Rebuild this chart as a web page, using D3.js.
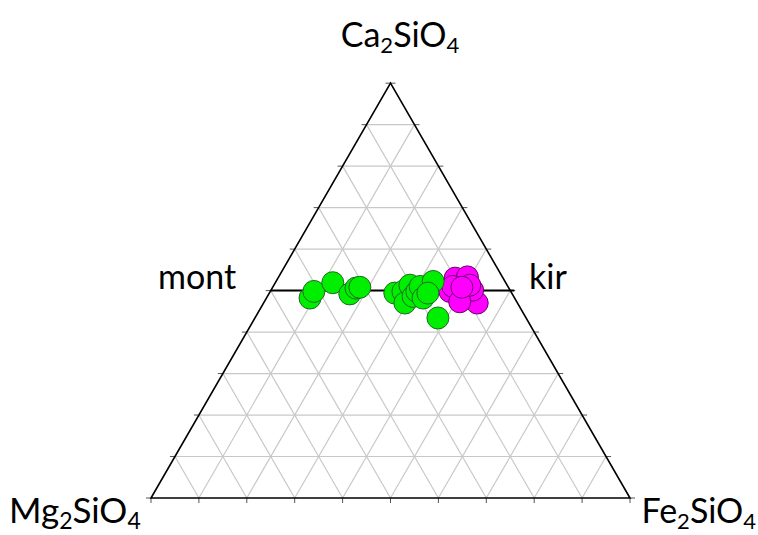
<!DOCTYPE html>
<html lang="en">
<head>
    <meta charset="utf-8">
    <title>Ternary Ca2SiO4 - Mg2SiO4 - Fe2SiO4</title>
    <script src="https://d3js.org/d3.v7.min.js"></script>
    <style>
        body { margin: 0; background: #fff; }
        .grid { stroke: #c8c8c8; stroke-width: 1.2; fill: none; }
        .frame { stroke: #000; stroke-width: 1.6; fill: none; }
        .tick { stroke: #555; stroke-width: 1; }
        .label { font-family: Lato, "Open Sans", sans-serif; font-size: 34px; fill: #000; }
    </style>
</head>
<body>
<script>
    // compositions in percent: Ca2SiO4 and Fe2SiO4 (Mg2SiO4 = rest)
    var greenCa = [48.2, 49.8, 51.9, 49.2, 50.6, 50.8, 49.4, 49.8, 47.0, 51.3, 48.6, 49.8, 51.0, 48.2, 52.2, 43.4, 49.4];
    var greenFe = [ 9.1,  9.1, 12.0, 16.9, 17.5, 18.2, 26.2, 27.7, 29.5, 28.4, 30.4, 30.6, 30.7, 32.7, 32.8, 38.2, 33.1];
    var pinkCa  = [53.0, 53.3, 49.8, 48.6, 47.0, 50.1, 51.0, 47.3, 51.3, 50.8];
    var pinkFe  = [37.0, 39.4, 37.5, 40.8, 44.6, 42.1, 37.5, 40.8, 40.9, 39.5];

    // tie line mont - kir at 50 % Ca2SiO4
    var tieCa = 50;
    var gridSteps = d3.range(10, 100, 10);
    var tickSteps = d3.range(0, 101, 10);

    var width = 758, height = 535;
    var svg = d3.select("body").append("svg")
        .attr("width", width)
        .attr("height", height);

    // horizontal position runs from Mg corner to Fe corner, vertical is Ca
    var x = d3.scaleLinear().domain([0, 100]).range([151, 630]);
    var y = d3.scaleLinear().domain([0, 100]).range([498, 498 - 479 * Math.sqrt(3) / 2]);

    function pt(ca, fe) {
        return [x(fe + ca / 2), y(ca)];
    }

    var line = d3.line();

    // grid lines
    var grid = svg.append("g");
    gridSteps.forEach(function(v) {
        // constant Ca
        grid.append("path").attr("class", "grid").attr("d", line([pt(v, 0), pt(v, 100 - v)]));
        // constant Fe
        grid.append("path").attr("class", "grid").attr("d", line([pt(0, v), pt(100 - v, v)]));
        // constant Mg
        grid.append("path").attr("class", "grid").attr("d", line([pt(0, 100 - v), pt(100 - v, 0)]));
    });

    // ticks on the edges
    var ticks = svg.append("g");
    tickSteps.forEach(function(v) {
        var a = pt(v, 0), b = pt(v, 100 - v), c = pt(0, v);
        ticks.append("line").attr("class", "tick")
            .attr("x1", a[0]).attr("y1", a[1]).attr("x2", a[0] - 5).attr("y2", a[1]);
        ticks.append("line").attr("class", "tick")
            .attr("x1", b[0]).attr("y1", b[1]).attr("x2", b[0] + 5).attr("y2", b[1]);
        ticks.append("line").attr("class", "tick")
            .attr("x1", c[0]).attr("y1", c[1]).attr("x2", c[0]).attr("y2", c[1] + 5);
    });

    // triangle frame
    svg.append("path").attr("class", "frame")
        .attr("d", line([pt(0, 0), pt(0, 100), pt(100, 0)]) + "Z");

    // tie line
    svg.append("path")
        .attr("stroke", "#000").attr("stroke-width", 2).attr("fill", "none")
        .attr("d", line([pt(tieCa, 0), [pt(tieCa, 100 - tieCa)[0] + 4, y(tieCa)]]));

    // data points
    var pink = pinkCa.map(function(c, i) { return pt(c, pinkFe[i]); });
    var green = greenCa.map(function(c, i) { return pt(c, greenFe[i]); });

    svg.append("g").selectAll("circle")
        .data(pink).enter().append("circle")
        .attr("cx", function(d) { return d[0]; })
        .attr("cy", function(d) { return d[1]; })
        .attr("r", 11)
        .attr("fill", "#ff00ff")
        .attr("stroke", "#6a006a")
        .attr("stroke-width", 1);

    svg.append("g").selectAll("circle")
        .data(green).enter().append("circle")
        .attr("cx", function(d) { return d[0]; })
        .attr("cy", function(d) { return d[1]; })
        .attr("r", 11)
        .attr("fill", "#00ee00")
        .attr("stroke", "#1f6a1f")
        .attr("stroke-width", 1);

    // labels
    function formula(xp, yp, anchor, size, parts) {
        var t = svg.append("text").attr("class", "label")
            .attr("x", xp).attr("y", yp).attr("text-anchor", anchor)
            .style("font-size", size + "px");
        parts.forEach(function(p) {
            var s = t.append("tspan").text(p[0]);
            if (p[1]) s.attr("font-size", Math.round(size * 0.65) + "px").attr("dy", 6);
            else s.attr("dy", p[2] || 0);
        });
        return t;
    }
    formula(400, 47, "middle", 34, [["Ca"], ["2", true], ["SiO", false, -6], ["4", true]]);
    formula(9, 523, "start", 35, [["Mg"], ["2", true], ["SiO", false, -6], ["4", true]]);
    formula(756, 523, "end", 34, [["Fe"], ["2", true], ["SiO", false, -6], ["4", true]]);

    svg.append("text").attr("class", "label").attr("x", 158).attr("y", 289).text("mont");
    svg.append("text").attr("class", "label").attr("x", 529).attr("y", 289).text("kir");
</script>
</body>
</html>
